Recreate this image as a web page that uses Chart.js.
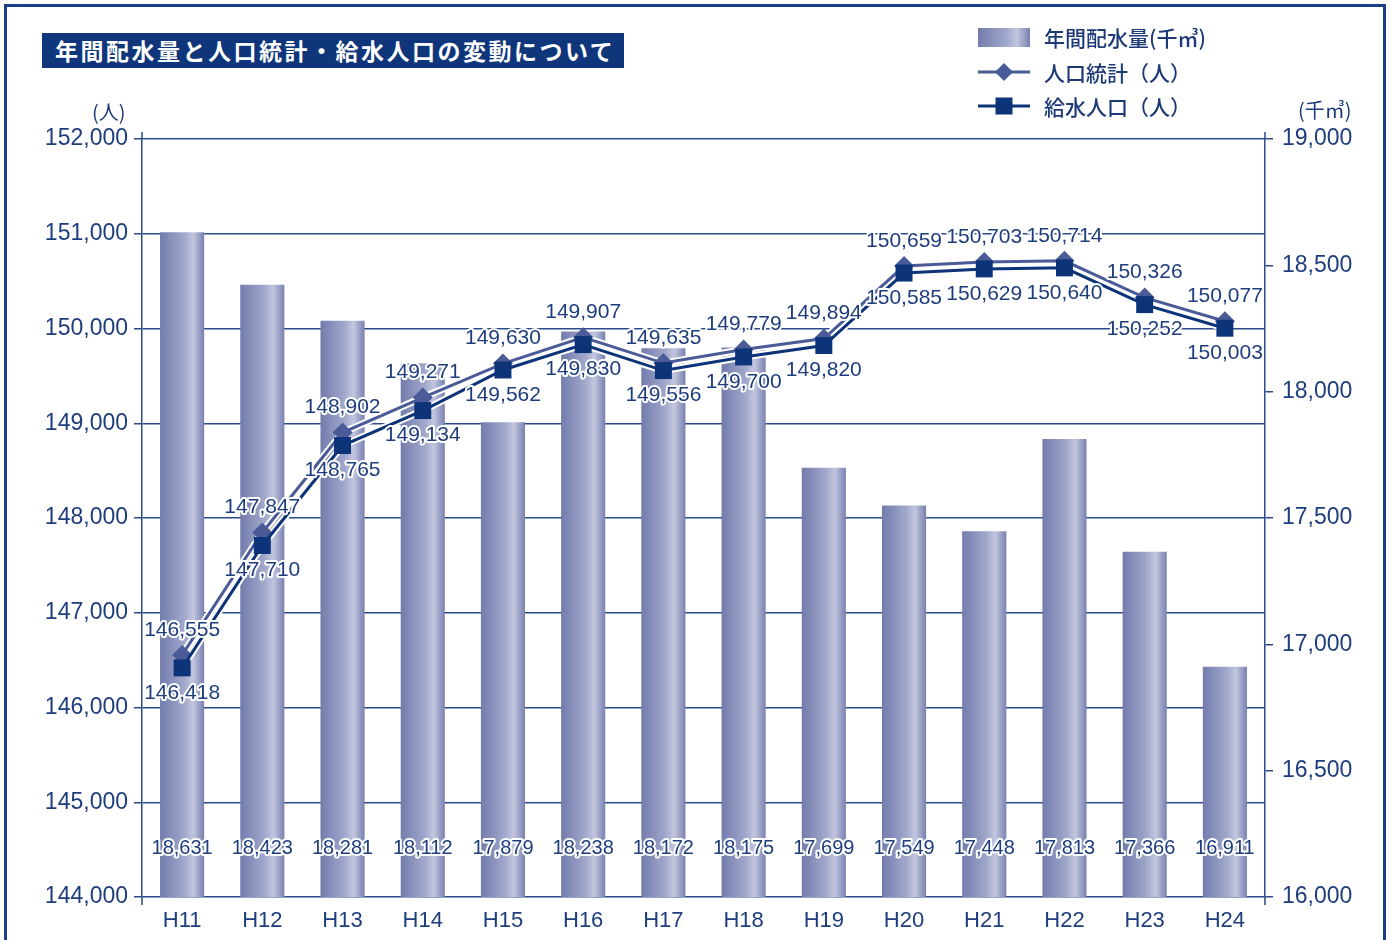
<!DOCTYPE html>
<html><head><meta charset="utf-8">
<script src="https://cdn.jsdelivr.net/npm/chart.js@4.4.1/dist/chart.umd.min.js"></script>
<style>
html,body{margin:0;padding:0;background:#fff;}
#wrap{position:relative;width:1390px;height:940px;overflow:hidden;background:#fff;}
#frame{position:absolute;left:4px;top:4px;width:1382px;height:980px;border:3px solid #1b3f87;box-sizing:border-box;}
#title{position:absolute;left:42px;top:33px;width:582px;height:35px;background:#0f367a;color:#fff;font-family:"Noto Sans CJK JP",sans-serif;font-weight:700;font-size:23px;line-height:35px;padding-left:13px;box-sizing:border-box;letter-spacing:2.5px;white-space:nowrap;}
canvas{position:absolute;left:0;top:0;}
.lg{position:absolute;left:1044px;font-family:"Noto Sans CJK JP",sans-serif;font-size:21px;color:#1c3a78;font-weight:500;line-height:24px;white-space:nowrap;}
.unit{position:absolute;font-family:"Noto Sans CJK JP",sans-serif;font-size:20px;color:#1c3a78;line-height:24px;white-space:nowrap;}
svg{position:absolute;left:0;top:0;}
</style>
</head><body>
<div id="wrap">
<canvas id="c" width="1390" height="940"></canvas>
<div id="frame"></div>
<div id="title">年間配水量と人口統計・給水人口の変動について</div>
<svg width="1390" height="140">
  <defs>
    <linearGradient id="bg" x1="0" x2="1" y1="0" y2="0">
      <stop offset="0" stop-color="#727cac"/>
      <stop offset="0.55" stop-color="#a2a8cc"/>
      <stop offset="0.75" stop-color="#c2c6de"/>
      <stop offset="1" stop-color="#7880b0"/>
    </linearGradient>
  </defs>
  <rect x="978" y="28" width="52" height="19" fill="url(#bg)"/>
  <line x1="978" y1="72" x2="1030" y2="72" stroke="#4b5b98" stroke-width="3"/>
  <polygon points="1004,63 1013,72 1004,81 995,72" fill="#4b5b98"/>
  <line x1="978" y1="106" x2="1030" y2="106" stroke="#0d3478" stroke-width="3"/>
  <rect x="995.5" y="97.5" width="17" height="17" fill="#0d3478"/>
</svg>
<div class="lg" style="top:25px;">年間配水量(千㎥)</div>
<div class="lg" style="top:60px;">人口統計（人）</div>
<div class="lg" style="top:94px;">給水人口（人）</div>
<div class="unit" style="left:92px;top:100px;">(人)</div>
<div class="unit" style="left:1298px;top:98px;">(千㎥)</div>
</div>
<script>
const categories = ['H11','H12','H13','H14','H15','H16','H17','H18','H19','H20','H21','H22','H23','H24'];
const waterVolume = [18631,18423,18281,18112,17879,18238,18172,18175,17699,17549,17448,17813,17366,16911];
const popStats = [146555,147847,148902,149271,149630,149907,149635,149779,149894,150659,150703,150714,150326,150077];
const servedPop = [146418,147710,148765,149134,149562,149830,149556,149700,149820,150585,150629,150640,150252,150003];
const leftTicks = {min:144000, max:152000, step:1000};
const rightTicks = {min:16000, max:19000, step:500};

const NAVY = '#1d3d7d';
const AXIS = '#2a4a8a';
const NUMFONT = '"Liberation Sans", Arial, sans-serif';
const fmt = v => Number(v).toLocaleString('en-US');
const BAR_PCT = 0.55;

const barFill = (c) => {
  const chart = c.chart; const xs = chart.scales.x;
  if (!xs || c.dataIndex === undefined || !xs.width) return '#8a92bd';
  const x = xs.getPixelForValue(c.dataIndex);
  const bw = xs.width / categories.length * BAR_PCT;
  const g = chart.ctx.createLinearGradient(x - bw/2, 0, x + bw/2, 0);
  g.addColorStop(0, '#727cac');
  g.addColorStop(0.55, '#a2a8cc');
  g.addColorStop(0.75, '#c2c6de');
  g.addColorStop(1, '#7880b0');
  return g;
};

const labelPlugin = {
  id: 'valueLabels',
  afterDatasetsDraw(chart) {
    const ctx = chart.ctx;
    ctx.save();
    ctx.textAlign = 'center';
    ctx.textBaseline = 'middle';
    ctx.lineJoin = 'round';
    const draw = (t, x, y, font) => {
      ctx.font = font;
      ctx.lineWidth = 4;
      ctx.strokeStyle = '#fff';
      ctx.strokeText(t, x, y);
      ctx.fillStyle = NAVY;
      ctx.fillText(t, x, y);
    };
    const bottom = chart.chartArea.bottom;
    chart.getDatasetMeta(0).data.forEach((el, i) => draw(fmt(waterVolume[i]), el.x, bottom - 49, '20px ' + NUMFONT));
    chart.getDatasetMeta(3).data.forEach((el, i) => draw(fmt(popStats[i]), el.x, el.y - 25, '21px ' + NUMFONT));
    chart.getDatasetMeta(4).data.forEach((el, i) => draw(fmt(servedPop[i]), el.x, el.y + 25, '21px ' + NUMFONT));
    ctx.restore();
  },
  afterDraw(chart) {
    const ctx = chart.ctx; const a = chart.chartArea;
    ctx.save();
    ctx.strokeStyle = AXIS; ctx.lineWidth = 1.5;
    ctx.beginPath();
    ctx.moveTo(a.left, a.bottom); ctx.lineTo(a.left, a.bottom + 8);
    ctx.moveTo(a.right, a.bottom); ctx.lineTo(a.right, a.bottom + 8);
    ctx.moveTo(a.left, a.top); ctx.lineTo(a.left, a.top - 7);
    ctx.moveTo(a.right, a.top); ctx.lineTo(a.right, a.top - 7);
    ctx.stroke();
    ctx.restore();
  }
};

new Chart(document.getElementById('c'), {
  type: 'bar',
  data: {
    labels: categories,
    datasets: [
      { type:'bar', label:'年間配水量(千㎥)', data: waterVolume, yAxisID:'yR', backgroundColor: barFill,
        barPercentage: BAR_PCT, categoryPercentage: 1.0, order: 10 },
      { type:'line', label:'_w1', data: popStats, yAxisID:'yL', borderColor:'#ffffff', borderWidth:7,
        pointRadius:0, tension:0, order:6 },
      { type:'line', label:'_w2', data: servedPop, yAxisID:'yL', borderColor:'#ffffff', borderWidth:7,
        pointRadius:0, tension:0, order:5 },
      { type:'line', label:'人口統計（人）', data: popStats, yAxisID:'yL', borderColor:'#4b5b98', borderWidth:3,
        pointStyle:'rectRot', pointRadius:10, pointBackgroundColor:'#4b5b98', pointBorderWidth:0, tension:0, order:3 },
      { type:'line', label:'給水人口（人）', data: servedPop, yAxisID:'yL', borderColor:'#0d3478', borderWidth:3,
        pointStyle:'rect', pointRadius:12, pointBackgroundColor:'#0d3478', pointBorderWidth:0, tension:0, order:2 }
    ]
  },
  options: {
    responsive: false,
    animation: false,
    devicePixelRatio: 1,
    layout: { padding: { top: 139, left: 0, right: 0, bottom: 0 } },
    plugins: { legend: { display:false }, tooltip: { enabled:false }, title: { display:false } },
    scales: {
      x: {
        grid: { display:false, drawTicks:false },
        border: { display:false },
        ticks: { color: NAVY, font: { family: NUMFONT, size: 22 }, padding: 11, maxRotation:0 },
        afterFit: s => { s.height = 43; }
      },
      yL: {
        position: 'left',
        min: leftTicks.min, max: leftTicks.max,
        grid: { color: AXIS, lineWidth: 1.5, tickLength: 8, drawTicks: true },
        border: { display: true, color: AXIS, width: 1.5 },
        ticks: { stepSize: leftTicks.step, color: NAVY, font: { family: NUMFONT, size: 23 }, padding: 6,
          callback: v => fmt(v) },
        afterFit: s => { s.width = 142; }
      },
      yR: {
        position: 'right',
        min: rightTicks.min, max: rightTicks.max,
        grid: { drawOnChartArea: false, color: AXIS, lineWidth: 1.5, tickLength: 8 },
        border: { display: true, color: AXIS, width: 1.5 },
        ticks: { stepSize: rightTicks.step, color: NAVY, font: { family: NUMFONT, size: 23 }, padding: 9,
          callback: v => fmt(v) },
        afterFit: s => { s.width = 125; }
      }
    }
  },
  plugins: [labelPlugin]
});
</script>
</body></html>
